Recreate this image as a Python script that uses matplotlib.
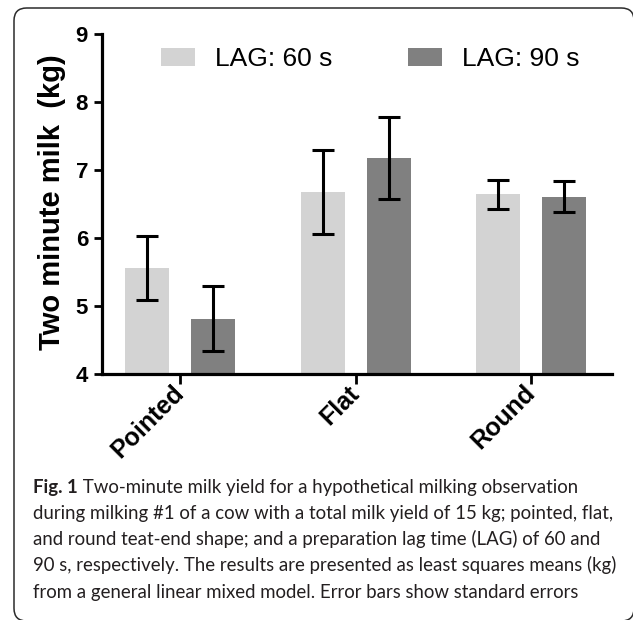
import matplotlib
matplotlib.use("Agg")
import matplotlib.pyplot as plt
import matplotlib.transforms as mtrans
from matplotlib.patches import FancyBboxPatch, Patch
import numpy as np

# ---- data ----
categories = ["Pointed", "Flat", "Round"]
series_names = ["LAG: 60 s", "LAG: 90 s"]
lag60_means = [5.555, 6.67, 6.64]
lag60_se = [0.475, 0.615, 0.21]
lag90_means = [4.81, 7.175, 6.605]
lag90_se = [0.475, 0.605, 0.225]
y_ticks = [4, 5, 6, 7, 8, 9]
ylabel_text = "Two minute milk  (kg)"
caption_bold = "Fig. 1"
caption_lines = [
    " Two-minute milk yield for a hypothetical milking observation",
    "during milking #1 of a cow with a total milk yield of 15 kg; pointed, flat,",
    "and round teat-end shape; and a preparation lag time (LAG) of 60 and",
    "90 s, respectively. The results are presented as least squares means (kg)",
    "from a general linear mixed model. Error bars show standard errors",
]

colors = ["#d3d3d3", "#808080"]
W, H = 633, 620
plt.rcParams['font.family'] = ['Liberation Sans', 'DejaVu Sans']
fig = plt.figure(figsize=(W / 100, H / 100), dpi=100)

def fx(px):
    return px / W

def fy(py):
    return 1 - py / H

# border
border = FancyBboxPatch((fx(14), fy(621)), fx(634) - fx(14), fy(8) - fy(621),
                        boxstyle="round,pad=0,rounding_size=0.02",
                        transform=fig.transFigure, fill=False,
                        edgecolor="#2b2b2b", linewidth=1.1, mutation_aspect=W / H)
fig.patches.append(border)

ax = fig.add_axes([fx(102), fy(374), fx(612) - fx(102), fy(33.5) - fy(374)])
x = np.arange(len(categories))
off = 0.188
bw = 0.25
lw_sp = 2.3
ax.bar(x - off, lag60_means, bw, color=colors[0], zorder=2)
ax.bar(x + off, lag90_means, bw, color=colors[1], zorder=2)
ax.errorbar(x - off, lag60_means, yerr=lag60_se, fmt='none', ecolor='black',
            elinewidth=2.2, capsize=8, capthick=2.2, zorder=3)
ax.errorbar(x + off, lag90_means, yerr=lag90_se, fmt='none', ecolor='black',
            elinewidth=2.2, capsize=8, capthick=2.2, zorder=3)

ax.set_xlim(-0.444, 2.459)
ax.set_ylim(4, 9)
ax.set_yticks(y_ticks)
ax.set_yticklabels([str(t) for t in y_ticks], fontsize=16, fontweight='bold')
ax.set_xticks(x)
ax.set_xticklabels(categories, fontsize=18, fontweight='bold', rotation=45,
                   ha='right', va='center', rotation_mode='anchor')
for lab in ax.get_xticklabels():
    lab.set_transform(lab.get_transform() +
                      mtrans.ScaledTranslation(16 / 100, 10 / 100, fig.dpi_scale_trans))

for s in ["top", "right"]:
    ax.spines[s].set_visible(False)
for s in ["left", "bottom"]:
    ax.spines[s].set_linewidth(lw_sp)
ax.tick_params(axis='y', length=6, width=2, pad=4)
ax.tick_params(axis='x', length=7, width=2, pad=4)

fig.text(fx(52), fy(202), ylabel_text, rotation=90, ha='center', va='center',
         fontsize=21, fontweight='bold')

# legends (two separate entries placed at reference positions)
h1 = Patch(facecolor=colors[0], edgecolor='none')
h2 = Patch(facecolor=colors[1], edgecolor='none')
common = dict(frameon=False, fontsize=19, handlelength=1.3, handleheight=0.7,
              handletextpad=0.75, borderpad=0, borderaxespad=0, loc='center left',
              bbox_transform=fig.transFigure)
leg1 = ax.legend([h1], [series_names[0]], bbox_to_anchor=(fx(161), fy(59)), **common)
ax.add_artist(leg1)
leg2 = ax.legend([h2], [series_names[1]], bbox_to_anchor=(fx(408), fy(59)), **common)

# caption
cap_font = ['Lato', 'DejaVu Sans']
cap_size = 15
cap_color = '#231f20'
base_y = [493, 519, 545, 571, 598]
t0 = fig.text(fx(33), fy(base_y[0]), caption_bold, fontsize=cap_size, fontweight='bold',
              family=cap_font, color=cap_color, va='baseline', ha='left')
t1 = ax.annotate(caption_lines[0], xy=(1, 0), xycoords=t0, va='bottom', ha='left',
                 fontsize=cap_size, family=cap_font, color=cap_color, annotation_clip=False)
others = []
for i in range(1, 5):
    others.append(fig.text(fx(33), fy(base_y[i]), caption_lines[i], fontsize=cap_size,
                           family=cap_font, color=cap_color, va='baseline', ha='left'))

# fit caption line 1 to its reference width (33 -> 578 px)
fig.canvas.draw()
r = fig.canvas.get_renderer()
right = t1.get_window_extent(r).x1
left = t0.get_window_extent(r).x0
scale = (578 - 33) / (right - left)
new_size = cap_size * scale
for t in [t0, t1] + others:
    t.set_fontsize(new_size)

fig.savefig("out.png", dpi=100)
